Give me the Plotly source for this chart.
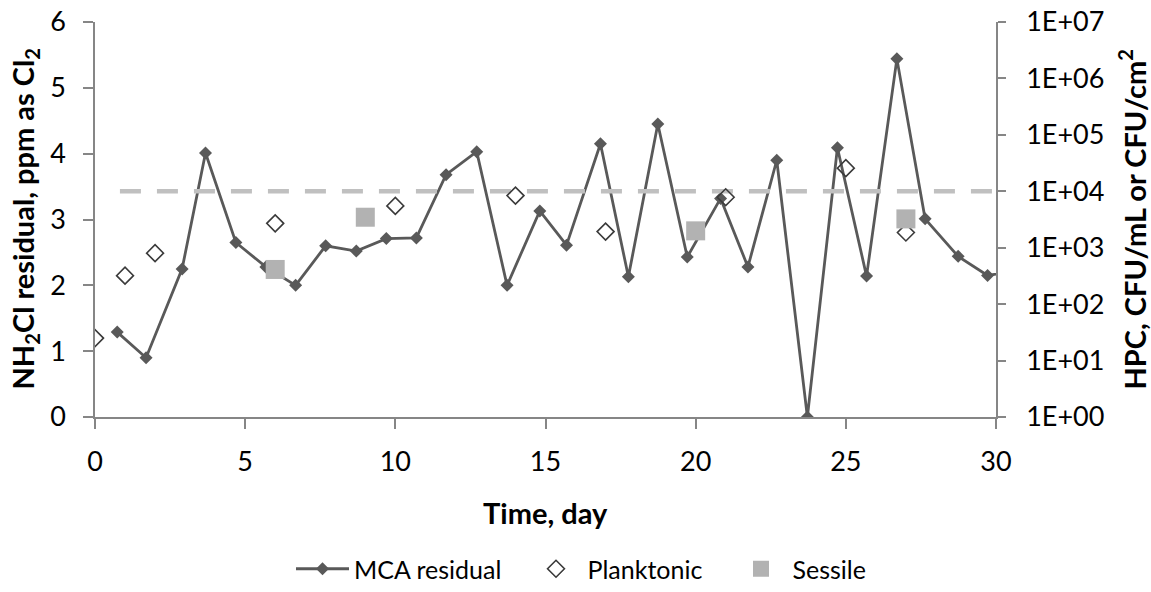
import plotly.graph_objects as go

# ---- data ----
mca_day = [0.74, 1.70, 2.90, 3.68, 4.69, 5.69, 6.68, 7.68, 8.70, 9.70, 10.70, 11.69, 12.71,
           13.72, 14.81, 15.70, 16.83, 17.76, 18.74, 19.72, 20.83, 21.74, 22.70, 23.72,
           24.72, 25.69, 26.70, 27.64, 28.74, 29.72, 30.72]
mca_val = [1.29, 0.90, 2.25, 4.01, 2.65, 2.28, 2.00, 2.60, 2.52, 2.71, 2.72, 3.68, 4.03,
           2.00, 3.13, 2.61, 4.15, 2.13, 4.45, 2.43, 3.32, 2.28, 3.90, 0.00,
           4.09, 2.14, 5.44, 3.01, 2.44, 2.15, 2.22]

plank_day = [0, 1, 2, 6, 10, 14, 17, 21, 25, 27]
plank_val = [25, 320, 800, 2700, 5500, 8400, 1930, 7850, 25700, 1860]

sess_day = [6, 9, 20, 27]
sess_val = [412, 3470, 1990, 3240]

limit_day = [0.83, 30]
limit_val = [1e4, 1e4]

x_ticks = [0, 5, 10, 15, 20, 25, 30]
y_ticks = [0, 1, 2, 3, 4, 5, 6]
y2_tickvals = [1, 10, 100, 1e3, 1e4, 1e5, 1e6, 1e7]
y2_ticktext = ["1E+00", "1E+01", "1E+02", "1E+03", "1E+04", "1E+05", "1E+06", "1E+07"]

FONT = "Lato"
AX = "#868686"
DARK = "#595959"

fig = go.Figure()
fig.add_trace(go.Scatter(x=limit_day, y=limit_val, yaxis="y2", mode="lines",
                         line=dict(color="#C0C0C0", width=4.5, dash="21px,16px"),
                         showlegend=False, hoverinfo="skip"))
fig.add_trace(go.Scatter(x=mca_day, y=mca_val, mode="lines+markers", name="MCA residual",
                         line=dict(color=DARK, width=2.8), legend="legend",
                         marker=dict(symbol="diamond", size=10, color=DARK)))
fig.add_trace(go.Scatter(x=plank_day, y=plank_val, yaxis="y2", mode="markers", name="Planktonic",
                         legend="legend2",
                         marker=dict(symbol="diamond-open", size=13, color="#3A3A3A",
                                     line=dict(width=1.6))))
fig.add_trace(go.Scatter(x=sess_day, y=sess_val, yaxis="y2", mode="markers", name="Sessile",
                         legend="legend3",
                         marker=dict(symbol="square", size=19, color="#B2B2B2")))

L, R, T, B = 95, 1151 - 996, 22, 592 - 417
W, H = 1151, 592
pw, ph = W - L - R, H - T - B

def px_x(px):
    return (px - L) / pw

leg_common = dict(orientation="h", xanchor="left", y=-(569 - 417) / ph, yanchor="middle",
                  font=dict(size=25), itemwidth=53, bgcolor="rgba(0,0,0,0)")

fig.update_layout(
    width=W, height=H,
    margin=dict(l=L, r=R, t=T, b=B, autoexpand=False),
    paper_bgcolor="white", plot_bgcolor="white",
    font=dict(family=FONT, size=24, color="black"),
    xaxis=dict(range=[0, 30], tickvals=x_ticks, ticks="outside", ticklen=10, tickwidth=1.5,
               tickcolor=AX, showline=True, linecolor=AX, linewidth=1.5, showgrid=False,
               zeroline=False, tickfont=dict(size=27), ticklabelstandoff=10),
    yaxis=dict(range=[0, 6], tickvals=y_ticks, ticks="outside", ticklen=10, tickwidth=1.5,
               tickcolor=AX, showline=True, linecolor=AX, linewidth=1.5, showgrid=False,
               zeroline=False, tickfont=dict(size=27), ticklabelstandoff=12),
    yaxis2=dict(type="log", range=[0, 7], overlaying="y", side="right",
                tickvals=y2_tickvals, ticktext=y2_ticktext, ticks="outside", ticklen=8,
                tickwidth=1.5, tickcolor=AX, showline=True, linecolor=AX, linewidth=1.5,
                showgrid=False, zeroline=False, tickfont=dict(size=27), ticklabelstandoff=15),
    legend=dict(x=px_x(291), **leg_common),
    legend2=dict(x=px_x(524.5), **leg_common),
    legend3=dict(x=px_x(729.5), **leg_common),
)

fig.add_annotation(text="<b>NH<sub>2</sub>Cl residual, ppm as Cl<sub>2</sub></b>",
                   xref="paper", yref="paper", x=px_x(24), y=0.5, textangle=-90,
                   showarrow=False, xanchor="center", yanchor="middle", font=dict(size=29))
fig.add_annotation(text="<b>HPC, CFU/mL or CFU/cm<sup>2</sup></b>",
                   xref="paper", yref="paper", x=px_x(1132), y=0.5, textangle=-90,
                   showarrow=False, xanchor="center", yanchor="middle", font=dict(size=29))
fig.add_annotation(text="<b>Time, day</b>", xref="paper", yref="paper", x=0.5,
                   y=-(512 - 417) / ph, showarrow=False, xanchor="center", yanchor="middle",
                   font=dict(size=29))

fig.write_html("out.html")
